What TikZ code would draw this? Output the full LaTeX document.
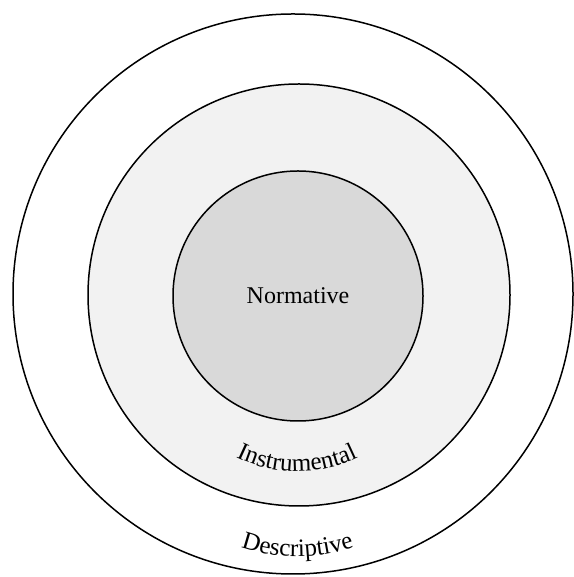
\documentclass[tikz,border=0pt]{standalone}
\usepackage{fontspec}
\setmainfont{Liberation Serif}
\usetikzlibrary{decorations.text}
\definecolor{midgray}{HTML}{F2F2F2}
\definecolor{coregray}{HTML}{D9D9D9}
\newcommand{\ringfont}{\fontsize{24}{28}\selectfont}
\newcommand{\bentfont}{\fontsize{25}{29}\selectfont}

\begin{document}
\begin{tikzpicture}[x=1pt,y=1pt,
  ring/.style={draw, circle, line width=1.5pt}]
\useasboundingbox (0,0) rectangle (573,577);

\node[ring, minimum size=560pt] (outer) at (293,283) {};
\node[ring, minimum size=422pt, fill=midgray] (middle) at (299,282) {};
\node[ring, minimum size=250pt, fill=coregray, font=\ringfont] (inner) at (298,281) {Normative};

% centres of the bent labels
\coordinate (instr) at (297,243.5);
\coordinate (descr) at (297.5,190.5);

\path[decorate, decoration={text along path, text align=center, text={|\bentfont|Instrumental}}]
  (instr) ++(225:138) arc (225:315:138);
\path[decorate, decoration={text along path, text align=center, text={|\bentfont|Descriptive}}]
  (descr) ++(230:170) arc (230:310:170);
\end{tikzpicture}
\end{document}
